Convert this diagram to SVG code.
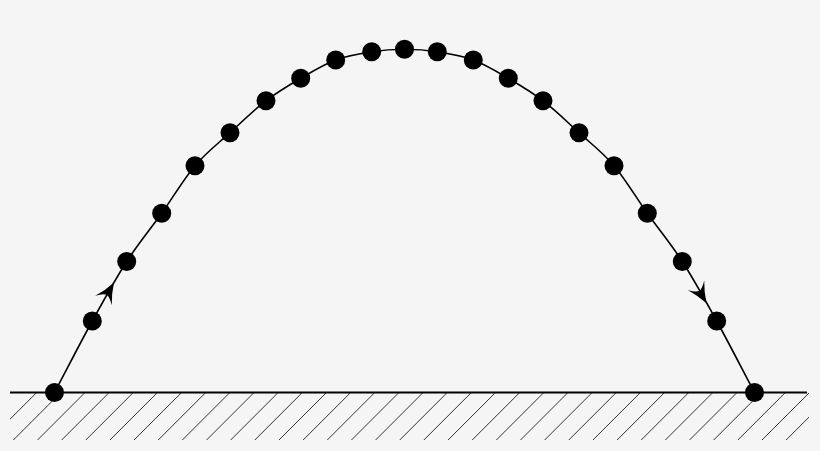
<svg xmlns="http://www.w3.org/2000/svg" xmlns:xlink="http://www.w3.org/1999/xlink" width="820" height="451" viewBox="0 0 820 451">
<style>
.bg{fill:#f5f5f5}
.ground{stroke:#000;stroke-width:2;fill:none}
.hatch{stroke:#333;stroke-width:1;fill:none}
.traj{stroke:#000;stroke-width:1.6;fill:none}
.dot{fill:#000}
.head{fill:#000}
</style>
<defs>
<clipPath id="hclip"><rect x="10" y="393" width="799" height="48"/></clipPath>
<path id="arrowhead" class="head" d="M1,0 Q-10,-3.5 -20,-9.5 Q-13.5,-3.5 -13.5,0 Q-13.5,3.5 -20,9.5 Q-10,3.5 1,0 Z"/>
</defs>
<rect class="bg" x="0" y="0" width="820" height="451"/>
<g id="ground">
<g clip-path="url(#hclip)">
<path class="hatch" d="M36.7,392.5 l-47.5,47.5 M60.85,392.5 l-47.5,47.5 M85,392.5 l-47.5,47.5 M109.15,392.5 l-47.5,47.5 M133.3,392.5 l-47.5,47.5 M157.45,392.5 l-47.5,47.5 M181.6,392.5 l-47.5,47.5 M205.75,392.5 l-47.5,47.5 M229.9,392.5 l-47.5,47.5 M254.05,392.5 l-47.5,47.5 M278.2,392.5 l-47.5,47.5 M302.35,392.5 l-47.5,47.5 M326.5,392.5 l-47.5,47.5 M350.65,392.5 l-47.5,47.5 M374.8,392.5 l-47.5,47.5 M398.95,392.5 l-47.5,47.5 M423.1,392.5 l-47.5,47.5 M447.25,392.5 l-47.5,47.5 M471.4,392.5 l-47.5,47.5 M495.55,392.5 l-47.5,47.5 M519.7,392.5 l-47.5,47.5 M543.85,392.5 l-47.5,47.5 M568,392.5 l-47.5,47.5 M592.15,392.5 l-47.5,47.5 M616.3,392.5 l-47.5,47.5 M640.45,392.5 l-47.5,47.5 M664.6,392.5 l-47.5,47.5 M688.75,392.5 l-47.5,47.5 M712.9,392.5 l-47.5,47.5 M737.05,392.5 l-47.5,47.5 M761.2,392.5 l-47.5,47.5 M785.35,392.5 l-47.5,47.5 M809.5,392.5 l-47.5,47.5 M833.65,392.5 l-47.5,47.5"/>
</g>
<line class="ground" x1="10" y1="392.5" x2="807" y2="392.5"/>
</g>
<g id="connectors">
<path class="traj" d="M54.5,392.5 C67.1,368.7 80.27,342.83 92.3,321 C104.33,299.17 115.13,279.45 126.7,261.5 C138.27,243.55 150.32,229.27 161.7,213.3 C173.08,197.33 183.62,179.13 195,165.7 C206.38,152.27 218.17,143.53 230,132.7 C241.83,121.87 254.22,109.77 266,100.7 C277.78,91.63 289.08,85.08 300.7,78.3 C312.32,71.52 323.87,64.42 335.7,60 C347.53,55.58 360.23,53.58 371.7,51.8 C383.17,50.02 393.57,49.3 404.5,49.3 C415.43,49.3 425.83,50.02 437.3,51.8 C448.770,53.58 461.47,55.58 473.3,60 C485.13,64.42 496.68,71.52 508.3,78.3 C519.92,85.08 531.22,91.63 543,100.7 C554.78,109.77 567.17,121.87 579,132.7 C590.83,143.53 602.62,152.27 614,165.7 C625.38,179.13 635.92,197.33 647.3,213.3 C658.68,229.27 670.73,243.55 682.3,261.5 C693.87,279.45 704.67,299.17 716.7,321 C728.73,342.83 741.9,368.7 754.5,392.5"/>
<use xlink:href="#arrowhead" href="#arrowhead" transform="translate(113.5,283.3) rotate(-60)"/>
<use xlink:href="#arrowhead" href="#arrowhead" transform="translate(706,302.5) rotate(60)"/>
</g>
<g id="p0"><circle class="dot" cx="54.5" cy="392.5" r="9.5"/></g>
<g id="p1"><circle class="dot" cx="92.3" cy="321" r="9.5"/></g>
<g id="p2"><circle class="dot" cx="126.7" cy="261.5" r="9.5"/></g>
<g id="p3"><circle class="dot" cx="161.7" cy="213.3" r="9.5"/></g>
<g id="p4"><circle class="dot" cx="195" cy="165.7" r="9.5"/></g>
<g id="p5"><circle class="dot" cx="230" cy="132.7" r="9.5"/></g>
<g id="p6"><circle class="dot" cx="266" cy="100.7" r="9.5"/></g>
<g id="p7"><circle class="dot" cx="300.7" cy="78.3" r="9.5"/></g>
<g id="p8"><circle class="dot" cx="335.7" cy="60" r="9.5"/></g>
<g id="p9"><circle class="dot" cx="371.7" cy="51.8" r="9.5"/></g>
<g id="p10"><circle class="dot" cx="404.5" cy="49.3" r="9.5"/></g>
<g id="p11"><circle class="dot" cx="437.3" cy="51.8" r="9.5"/></g>
<g id="p12"><circle class="dot" cx="473.3" cy="60" r="9.5"/></g>
<g id="p13"><circle class="dot" cx="508.3" cy="78.3" r="9.5"/></g>
<g id="p14"><circle class="dot" cx="543" cy="100.7" r="9.5"/></g>
<g id="p15"><circle class="dot" cx="579" cy="132.7" r="9.5"/></g>
<g id="p16"><circle class="dot" cx="614" cy="165.7" r="9.5"/></g>
<g id="p17"><circle class="dot" cx="647.3" cy="213.3" r="9.5"/></g>
<g id="p18"><circle class="dot" cx="682.3" cy="261.5" r="9.5"/></g>
<g id="p19"><circle class="dot" cx="716.7" cy="321" r="9.5"/></g>
<g id="p20"><circle class="dot" cx="754.5" cy="392.5" r="9.5"/></g>
</svg>
